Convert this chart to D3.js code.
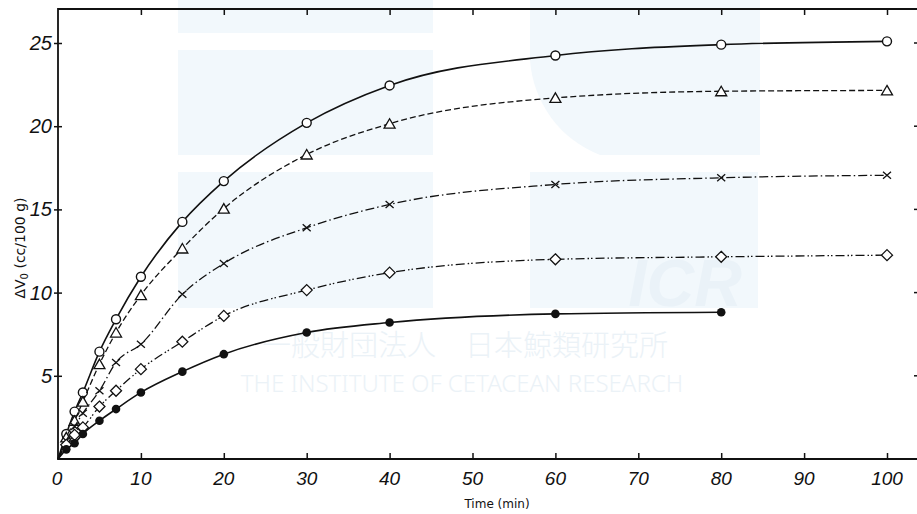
<!DOCTYPE html>
<html>
<head>
<meta charset="utf-8">
<script src="https://cdn.jsdelivr.net/npm/d3@7"></script>
<style>
  body { margin: 0; background: #fff; }
  .tick-label { font-family: "Liberation Sans Narrow", "Liberation Sans", "DejaVu Sans", sans-serif; font-style: italic; font-size: 19px; fill: #111; }
  .axis-title { font-family: "DejaVu Sans", sans-serif; font-size: 12px; fill: #111; }
</style>
</head>
<body>
<div id="chart"></div>
<script>
// set the dimensions and margins of the graph
var margin = {top: 9, right: -2, bottom: 55, left: 58};
var width = 917 - margin.left - margin.right;
var height = 514 - margin.top - margin.bottom;

// the data
var times = [0, 1, 2, 3, 5, 7, 10, 15, 20, 30, 40, 60, 80, 100];
var circleVals   = [0, 1.5, 2.85, 4.0, 6.45, 8.4, 10.95, 14.25, 16.7, 20.2, 22.45, 24.25, 24.9, 25.1];
var triangleVals = [0, 1.3, 2.3, 3.45, 5.7, 7.6, 9.85, 12.65, 15.05, 18.3, 20.15, 21.7, 22.1, 22.15];
var crossVals    = [0, 1.1, 1.95, 2.75, 4.1, 5.8, 6.9, 9.9, 11.75, 13.9, 15.3, 16.5, 16.9, 17.05];
var diamondVals  = [0, 0.85, 1.45, 1.9, 3.15, 4.1, 5.4, 7.05, 8.6, 10.15, 11.2, 12.0, 12.15, 12.25];
var filledVals   = [0, 0.58, 0.95, 1.5, 2.3, 3.0, 4.0, 5.25, 6.3, 7.6, 8.2, 8.72, 8.82, null];

var xTicks = [0, 10, 20, 30, 40, 50, 60, 70, 80, 90, 100];
var yTicks = [5, 10, 15, 20, 25];

var series = [
    {name: "circle", vals: circleVals, dash: null, width: 1.6},
    {name: "triangle", vals: triangleVals, dash: "6,3", width: 1.3},
    {name: "cross", vals: crossVals, dash: "9,3,1.5,3", width: 1.3},
    {name: "diamond", vals: diamondVals, dash: "9,3,1.5,2,1.5,3", width: 1.3},
    {name: "filled", vals: filledVals, dash: null, width: 1.6}
];

// scales
var x = d3.scaleLinear().domain([0, 100]).range([0, 829]);
var y = d3.scaleLinear().domain([0, 25]).range([height, height - 416]);

var svg = d3.select("#chart").append("svg")
    .attr("width", 917)
    .attr("height", 514);

// faint watermark in the background
var wm = svg.append("g").attr("class", "watermark");
var pale = "#f2f8fc";
wm.append("rect").attr("x", 178).attr("y", 0).attr("width", 255).attr("height", 33).attr("fill", pale);
wm.append("rect").attr("x", 178).attr("y", 50).attr("width", 255).attr("height", 105).attr("fill", pale);
wm.append("rect").attr("x", 178).attr("y", 172).attr("width", 255).attr("height", 136).attr("fill", pale);
wm.append("path")
    .attr("d", "M530,0 L760,0 L760,155 L600,155 A110,110 0 0 1 530,60 Z")
    .attr("fill", pale);
wm.append("rect").attr("x", 530).attr("y", 172).attr("width", 228).attr("height", 136).attr("fill", pale);
wm.append("text")
    .attr("x", 685).attr("y", 306)
    .attr("text-anchor", "middle")
    .style("font-family", "Liberation Sans, sans-serif")
    .style("font-weight", "bold")
    .style("font-style", "italic")
    .style("font-size", "66px")
    .attr("fill", "#eaf2f8")
    .text("ICR");
wm.append("text")
    .attr("x", 465).attr("y", 356)
    .attr("text-anchor", "middle")
    .style("font-family", "Noto Sans CJK JP, sans-serif")
    .style("font-weight", "300")
    .style("font-size", "29px")
    .attr("fill", "#ebf2f7")
    .text("一般財団法人　日本鯨類研究所");
wm.append("text")
    .attr("x", 462).attr("y", 392)
    .attr("text-anchor", "middle")
    .style("font-family", "Noto Sans, sans-serif")
    .style("font-weight", "300")
    .style("font-size", "24px")
    .attr("fill", "#ebf2f7")
    .text("THE INSTITUTE OF CETACEAN RESEARCH");

var g = svg.append("g")
    .attr("transform", "translate(" + margin.left + "," + margin.top + ")");

// frame: left, top and bottom lines
g.append("path")
    .attr("d", "M" + (width + 5) + ",0 H0 V" + height + " H" + (width + 5))
    .attr("fill", "none")
    .attr("stroke", "#111")
    .attr("stroke-width", 1.8);

// bottom axis ticks (inside) and labels
var xAxis = d3.axisBottom(x).tickValues(xTicks.slice(1)).tickSize(-6).tickFormat("");
g.append("g").attr("transform", "translate(0," + height + ")").call(xAxis)
    .call(function(a) { a.select(".domain").remove(); a.selectAll("line").attr("stroke", "#111").attr("stroke-width", 1.5); });

// top axis ticks (inside)
var xTop = d3.axisTop(x).tickValues(xTicks.slice(1)).tickSize(-6).tickFormat("");
g.append("g").call(xTop)
    .call(function(a) { a.select(".domain").remove(); a.selectAll("line").attr("stroke", "#111").attr("stroke-width", 1.5); });

g.selectAll(".xlab")
    .data(xTicks)
    .enter().append("text")
    .attr("class", "tick-label")
    .attr("x", function(d) { return x(d) + (d === 0 ? -1 : 0); })
    .attr("y", height + 26)
    .attr("text-anchor", "middle")
    .text(function(d) { return d; });

// left axis ticks and labels
var yAxis = d3.axisLeft(y).tickValues(yTicks).tickSize(4).tickFormat("");
g.append("g").call(yAxis)
    .call(function(a) { a.select(".domain").remove(); a.selectAll("line").attr("stroke", "#111").attr("stroke-width", 1.5).attr("x2", 4).attr("x1", -4); });

g.selectAll(".ylab")
    .data(yTicks)
    .enter().append("text")
    .attr("class", "tick-label")
    .attr("x", -6)
    .attr("y", function(d) { return y(d) + 7; })
    .attr("text-anchor", "end")
    .style("font-size", "20px")
    .text(function(d) { return d; });

// right side ticks (the right frame line is off the picture)
g.selectAll(".rtick")
    .data(yTicks)
    .enter().append("line")
    .attr("x1", width - 5)
    .attr("x2", width)
    .attr("y1", function(d) { return y(d); })
    .attr("y2", function(d) { return y(d); })
    .attr("stroke", "#111")
    .attr("stroke-width", 1.5);

// axis titles
svg.append("text")
    .attr("class", "axis-title")
    .attr("transform", "translate(25,248) rotate(-90)")
    .attr("text-anchor", "middle")
    .style("font-size", "14px")
    .html("&#916;V<tspan font-size='10px' dy='3'>0</tspan><tspan dy='-3'> (cc/100 g)</tspan>");

svg.append("text")
    .attr("class", "axis-title")
    .attr("x", 497)
    .attr("y", 508)
    .attr("text-anchor", "middle")
    .text("Time (min)");

// curves
var line = d3.line()
    .defined(function(d) { return d[1] !== null; })
    .x(function(d) { return x(d[0]); })
    .y(function(d) { return y(d[1]); })
    .curve(d3.curveMonotoneX);

series.forEach(function(s) {
    var pts = times.map(function(t, i) { return [t, s.vals[i]]; })
        .filter(function(p) { return p[1] !== null; });

    g.append("path")
        .datum(pts)
        .attr("d", line)
        .attr("fill", "none")
        .attr("stroke", "#111")
        .attr("stroke-width", s.width)
        .attr("stroke-dasharray", s.dash);

    var marks = g.selectAll(".m-" + s.name)
        .data(pts.filter(function(p) { return p[0] > 0; }))
        .enter().append("g")
        .attr("transform", function(p) { return "translate(" + x(p[0]) + "," + y(p[1]) + ")"; });

    if (s.name === "circle") {
        marks.append("circle").attr("r", 4.5).attr("fill", "#fff").attr("stroke", "#111").attr("stroke-width", 1.4);
    } else if (s.name === "filled") {
        marks.append("circle").attr("r", 4.3).attr("fill", "#111");
    } else if (s.name === "triangle") {
        marks.append("path").attr("d", "M0,-5 L5.5,4.5 L-5.5,4.5 Z").attr("fill", "#fff").attr("stroke", "#111").attr("stroke-width", 1.3);
    } else if (s.name === "diamond") {
        marks.append("path").attr("d", "M0,-5.5 L5.5,0 L0,5.5 L-5.5,0 Z").attr("fill", "#fff").attr("stroke", "#111").attr("stroke-width", 1.3);
    } else {
        marks.append("path").attr("d", "M-4,-3.5 L4,3.5 M-4,3.5 L4,-3.5").attr("stroke", "#111").attr("stroke-width", 1.3);
    }
});
</script>
</body>
</html>
